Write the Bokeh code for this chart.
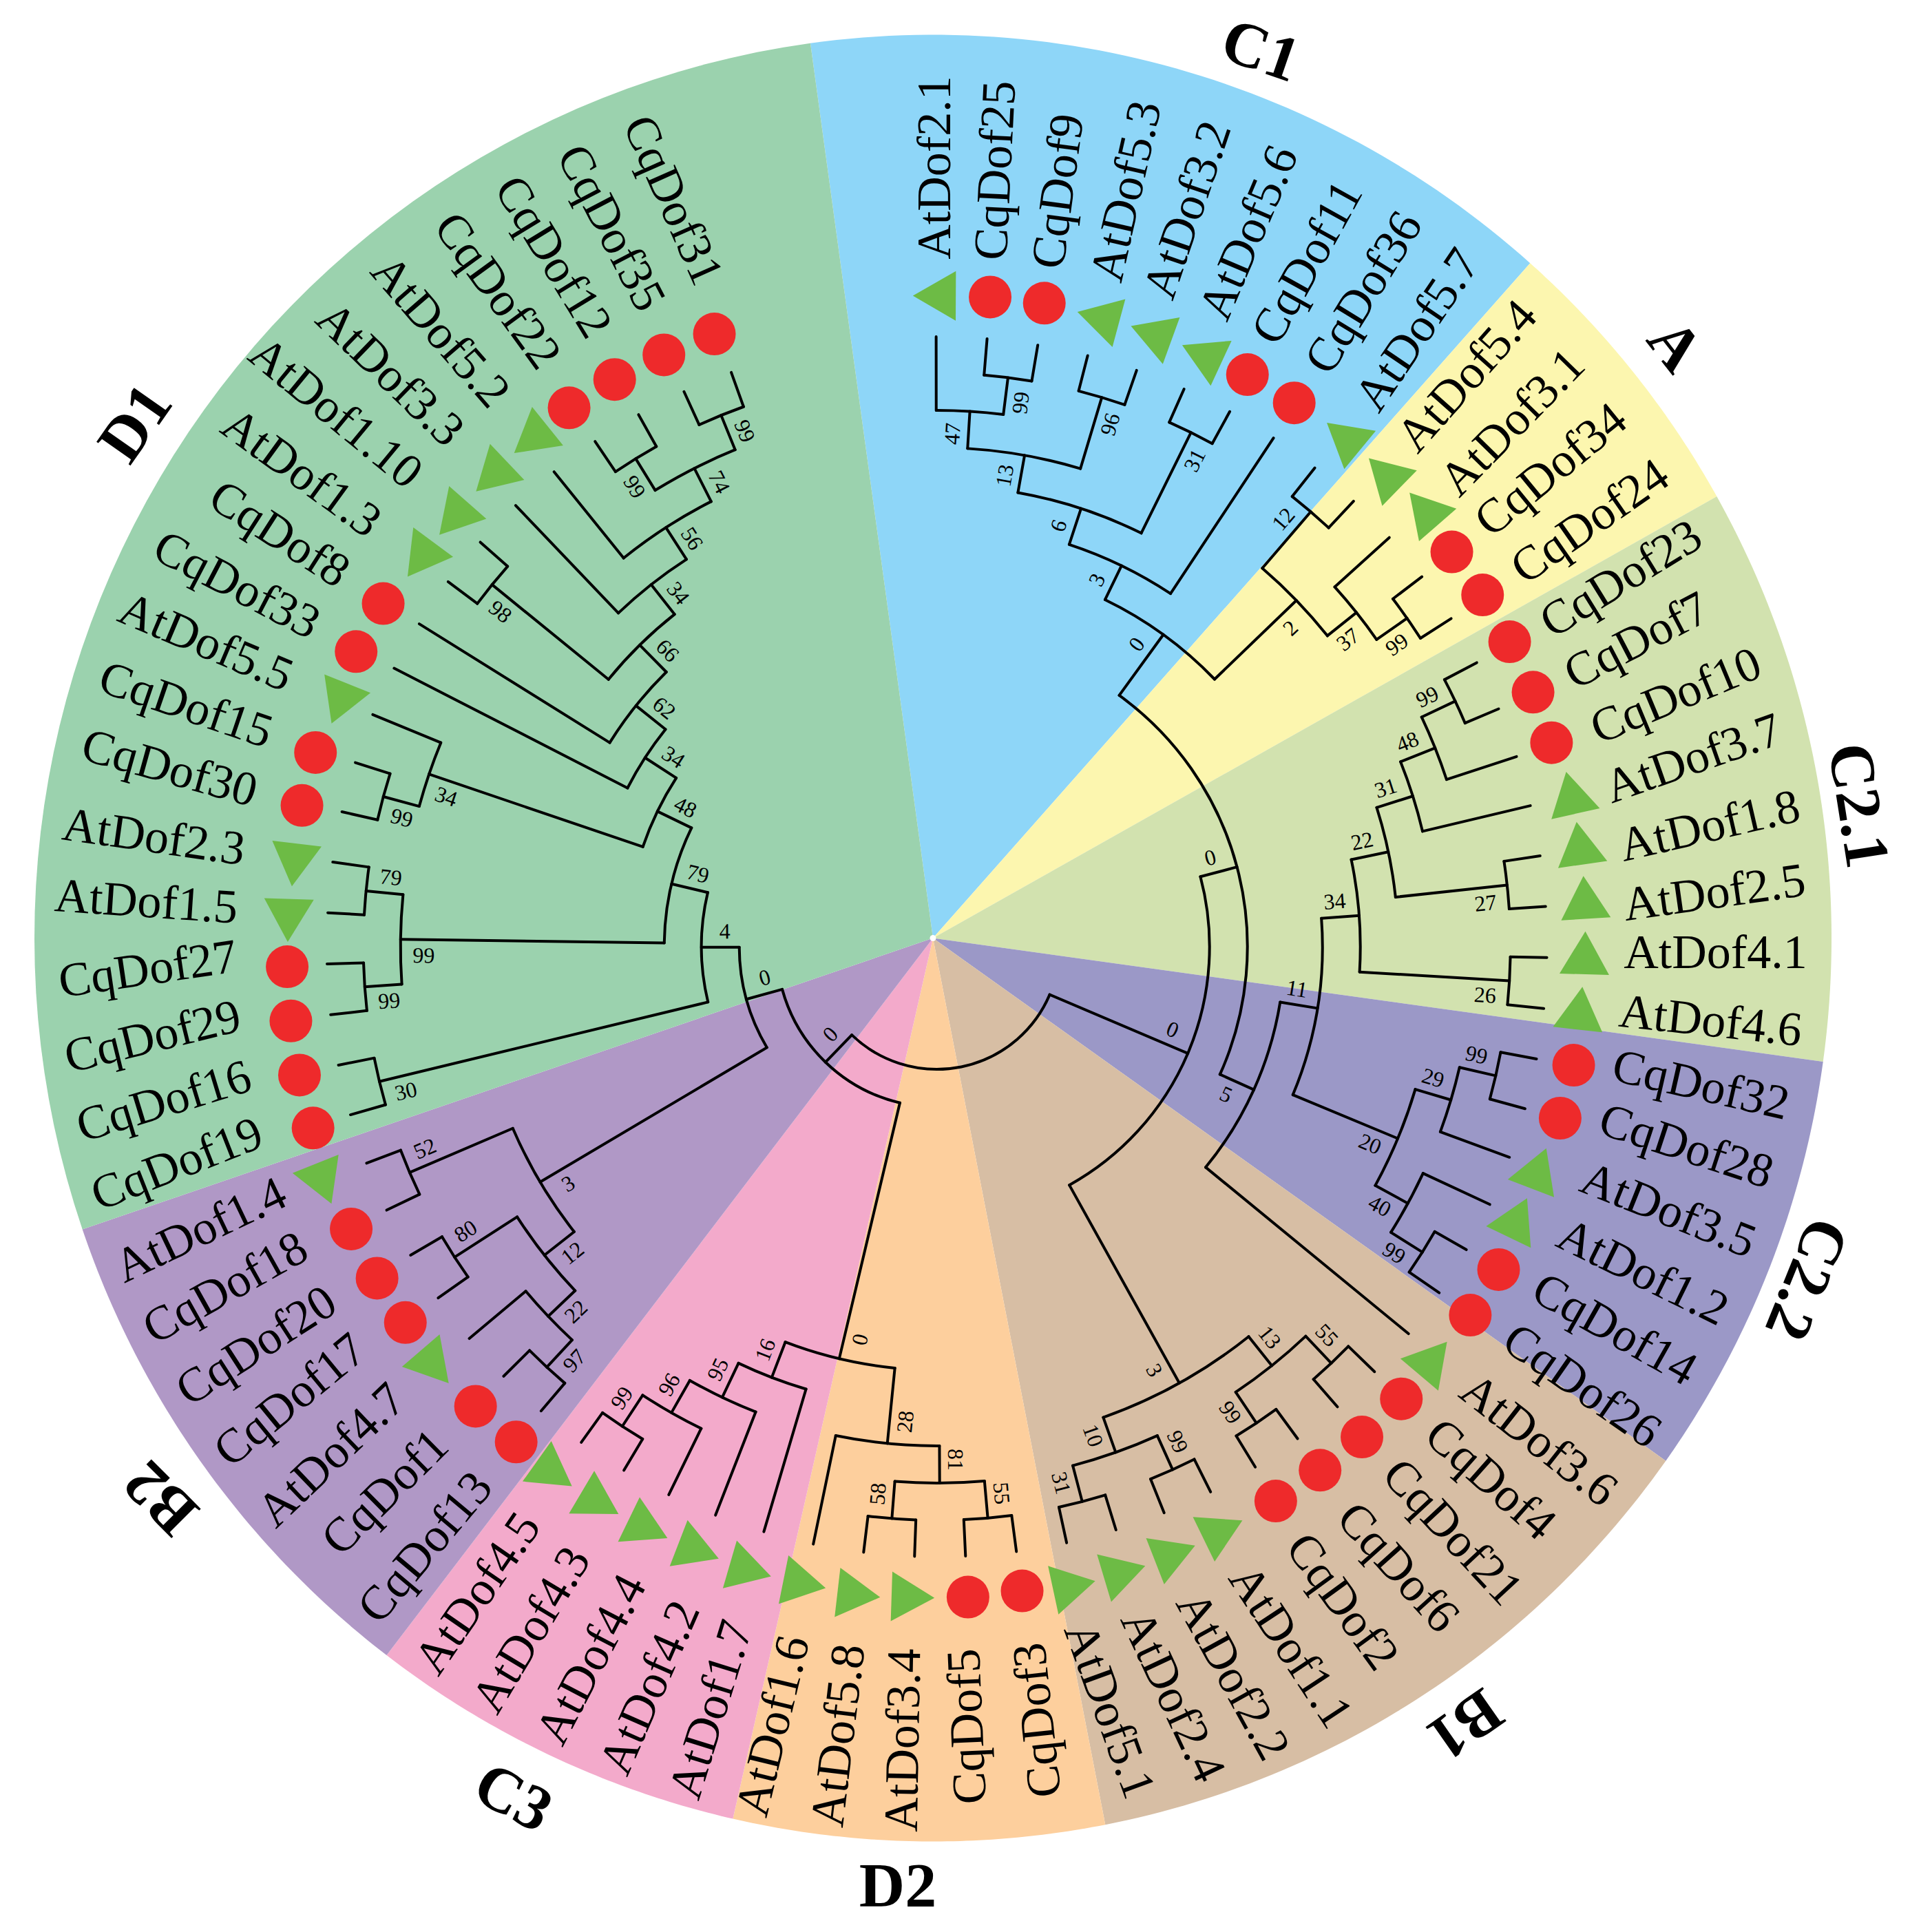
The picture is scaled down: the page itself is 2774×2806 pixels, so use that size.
import numpy as np
from bokeh.embed import file_html
from bokeh.models import ColumnDataSource, Range1d
from bokeh.plotting import figure
from bokeh.resources import INLINE

# symbols and group titles are read in a 1550px wide copy, PIC brings them to full size
PIC = 1.788
CX, CY = 1354.5, 1362.0       # where the coloured sectors meet
TREE_DX, TREE_DY = 5.7, -12.5  # the tree is not quite centred on the sectors

leaf_names = ["AtDof2.1", "CqDof25", "CqDof9", "AtDof5.3", "AtDof3.2", "AtDof5.6", "CqDof11", "CqDof36", "AtDof5.7",
              "AtDof5.4", "AtDof3.1", "CqDof34", "CqDof24",
              "CqDof23", "CqDof7", "CqDof10", "AtDof3.7", "AtDof1.8", "AtDof2.5", "AtDof4.1", "AtDof4.6",
              "CqDof32", "CqDof28", "AtDof3.5", "AtDof1.2", "CqDof14", "CqDof26",
              "AtDof3.6", "CqDof4", "CqDof21", "CqDof6", "CqDof2", "AtDof1.1", "AtDof2.2", "AtDof2.4", "AtDof5.1",
              "CqDof3", "CqDof5", "AtDof3.4", "AtDof5.8", "AtDof1.6",
              "AtDof1.7", "AtDof4.2", "AtDof4.4", "AtDof4.3", "AtDof4.5",
              "CqDof13", "CqDof1", "AtDof4.7", "CqDof17", "CqDof20", "CqDof18", "AtDof1.4",
              "CqDof19", "CqDof16", "CqDof29", "CqDof27", "AtDof1.5", "AtDof2.3", "CqDof30", "CqDof15", "AtDof5.5",
              "CqDof33", "CqDof8", "AtDof1.3", "AtDof1.10", "AtDof3.3", "AtDof5.2", "CqDof22", "CqDof12", "CqDof35",
              "CqDof31"]

# angle of each tip in the tree, degrees, running clockwise
leaf_angle = [90.07, 85.28, 80.48, 75.69, 70.89, 66.1, 61.31, 56.51, 51.72,
              46.92, 42.13, 37.34, 32.54,
              27.75, 22.95, 18.16, 13.37, 8.57, 3.78, -1.02, -5.81,
              -10.6, -15.4, -20.19, -24.99, -29.78, -34.57,
              -39.37, -44.16, -48.96, -53.75, -58.54, -63.34, -68.13, -72.93, -77.72,
              -82.51, -87.31, -92.1, -96.9, -101.69,
              -106.48, -111.28, -116.07, -120.87, -125.66,
              -130.45, -135.25, -140.04, -144.84, -149.63, -154.42, -159.22,
              -164.01, -168.81, -173.6, -178.39, -183.19, -187.98, -192.78, -197.57, -202.36,
              -207.16, -211.95, -216.75, -221.54, -226.33, -231.13, -235.92, -240.72, -245.51,
              -250.3]

leaf_parent = ["n47", "n99a", "n99a", "n96", "n96", "n31a", "n31a", "n3a", "n12",
               "n12", "n37", "n99b", "n99b",
               "n99c", "n99c", "n48", "n31b", "n27", "n27", "n26", "n26",
               "n99d", "n99d", "n29", "n40", "n99e", "n99e",
               "n5", "n55", "n55", "n99f", "n99f", "n99g", "n99g", "n31c", "n31c",
               "n55b", "n55b", "n58", "n58", "n28",
               "n16", "n95", "n96b", "n99h", "n99h",
               "n97", "n97", "n22c", "n80", "n80", "n52", "n52",
               "n30", "n30", "n99i", "n99i", "n79c", "n79c", "n99j", "n99j", "n34c",
               "n34b", "n62", "n98", "n98", "n34a", "n56", "n99k", "n99k", "n99l",
               "n99l"]

# markers and names were placed by hand in the figure, so they are read one by one
symbol_x = [760, 804, 848, 893, 936, 977, 1013, 1051, 1092,
            1125, 1157, 1179, 1204,
            1226, 1245, 1260, 1276, 1283, 1287, 1287, 1283,
            1278, 1267, 1249, 1232, 1217, 1194,
            1163, 1138, 1106, 1072, 1036, 992, 953, 912, 871,
            830, 786, 740, 696, 652,
            608, 566, 525, 486, 449,
            419, 386, 352, 329, 306, 285, 262,
            254, 243, 236, 233, 234, 239, 245, 256, 276,
            289, 311, 342, 369, 400, 432, 462, 499, 539,
            580]
symbol_y = [240, 241, 246, 258, 271, 288, 304, 327, 355,
            385, 414, 448, 483,
            521, 562, 603, 645, 686, 730, 775, 820,
            865, 908, 950, 990, 1031, 1068,
            1104, 1136, 1167, 1194, 1219, 1243, 1262, 1277, 1288,
            1292, 1297, 1297, 1295, 1286,
            1275, 1259, 1241, 1220, 1196,
            1171, 1142, 1109, 1074, 1038, 998, 960,
            916, 873, 829, 785, 746, 701, 654, 611, 570,
            529, 490, 453, 420, 386, 356, 331, 308, 288,
            271]

# middle of each name and its slant, full size pixels of the figure
name_x = [1356, 1444, 1535, 1634, 1723, 1812, 1897, 1979, 2057,
          2129, 2195, 2251, 2308,
          2353, 2376, 2433, 2458, 2482, 2489, 2491, 2484,
          2470, 2449, 2423, 2386, 2345, 2298,
          2235, 2165, 2110, 2031, 1950, 1875, 1791, 1704, 1612,
          1505, 1403, 1310, 1216, 1121,
          1031, 942, 857, 770, 692,
          616, 558, 480, 420, 371, 326, 290,
          256, 237, 221, 214, 212, 223, 246, 270, 299,
          344, 406, 438, 488, 567, 640, 723, 804, 888,
          978]
name_y = [243, 247, 277, 277, 304, 337, 380, 424, 478,
          545, 612, 681, 756,
          839, 929, 1009, 1100, 1198, 1295, 1382, 1481,
          1574, 1663, 1756, 1846, 1929, 2011,
          2090, 2147, 2224, 2275, 2325, 2390, 2433, 2462, 2483,
          2498, 2507, 2527, 2520, 2506,
          2482, 2450, 2409, 2366, 2313,
          2246, 2166, 2112, 2032, 1953, 1869, 1785,
          1689, 1598, 1504, 1406, 1308, 1214, 1114, 1022, 931,
          848, 774, 685, 598, 542, 480, 421, 372, 330,
          290]
name_rot = [90, 87.2, 82.5, 77.3, 71.3, 67, 61, 58.5, 56,
            48.5, 45.7, 39.3, 34.9,
            31.7, 27.5, 22.6, 19.4, 13, 8, 0, -6.2,
            -12.8, -18.1, -21.7, -26.2, -29.4, -34.8,
            -37.9, -41.6, -47.1, -48, -54, -56.6, -61.1, -64.8, -70,
            96.2, 92.5, 89, 83.1, 76.4,
            72.8, 66.4, 62.5, 59, 55.5,
            50, 44.7, 43.7, 39.3, 32.8, 29.2, 25.5,
            21.4, 17, 13.8, 8.4, -3.9, -8.1, -15.5, -18.8, -23,
            -27.5, -32.7, -36, -39.5, -44, -49, -54, -58.5, -62.5,
            -66]

node_id = ["root", "a0", "b0", "c0", "n3b", "d0", "n5", "n3a", "n2", "n6", "n13", "n47", "n99a", "n96", "n31a",
           "n12", "n37", "n99b", "n11", "n34", "n20", "n22", "n26", "n31b", "n27", "n48", "n99c",
           "n29", "n99d", "n40", "n99e", "n13b", "n55", "n99f", "n10", "n99g", "n31c",
           "e0", "f0", "n28", "n16", "n81", "n55b", "n58", "n95", "n96b", "n99h",
           "n3c", "n4", "n12c", "n52", "n22c", "n80", "n97",
           "n30", "n79a", "n99big", "n48b", "n99i", "n79c", "n34c", "n34b", "n99j",
           "n62", "n66", "n98", "n34a", "n56", "n74", "n99k", "n99l"]
node_parent = [None, "root", "root", "a0", "a0", "c0", "c0", "d0", "d0", "n3a", "n6", "n13", "n47", "n13", "n6",
               "n2", "n2", "n37", "n5", "n11", "n11", "n34", "n34", "n22", "n22", "n31b", "n48",
               "n20", "n29", "n20", "n40", "n3b", "n13b", "n13b", "n3b", "n10", "n10",
               "b0", "b0", "e0", "e0", "n28", "n81", "n81", "n16", "n95", "n96b",
               "f0", "f0", "n3c", "n3c", "n12c", "n12c", "n22c",
               "n4", "n4", "n79a", "n79a", "n99big", "n99big", "n48b", "n48b", "n34c",
               "n34b", "n62", "n66", "n66", "n34a", "n56", "n74", "n74"]
node_radius = [178, 396, 233, 451, 725, 560, 505, 615, 725, 670, 725, 779, 833, 833, 833,
               833, 779, 833, 560, 615, 725, 670, 833, 725, 833, 779, 833,
               779, 833, 779, 833, 779, 833, 833, 779, 833, 833,
               615, 287, 725, 670, 779, 833, 833, 725, 779, 833,
               670, 342, 725, 833, 779, 833, 833,
               833, 396, 779, 451, 833, 833, 779, 505, 833,
               560, 615, 833, 670, 725, 779, 833, 833]
node_support = [None, 0, 0, 0, 3, 0, 5, 3, 2, 6, 13, 47, 99, 96, 31,
                12, 37, 99, 11, 34, 20, 22, 26, 31, 27, 48, 99,
                29, 99, 40, 99, 13, 55, 99, 10, 99, 31,
                0, 0, 28, 16, 81, 55, 58, 95, 96, 99,
                3, 4, 12, 52, 22, 80, 97,
                30, 79, 99, 48, 99, 79, 34, 34, 99,
                62, 66, 98, 34, 56, 74, 99, 99]
TIP_RADIUS = 886

sector_names = ["C1", "A", "C2.1", "C2.2", "B1", "D2", "C3", "B2", "D1"]
sector_start = [48.5, 29.4, -7.9, -35.5, -79, -102.8, -127.3, -161.1, -262.2]
sector_end = [97.8, 48.5, 29.4, -7.9, -35.5, -79, -102.8, -127.3, -161.1]
sector_colors = ["#8ed6f8", "#fcf6af", "#d2e2af", "#9b98c7", "#d7bea4", "#fdcf9d", "#f3aacb", "#b098c6", "#9bd2ae"]
DISK_RX, DISK_RY = 1305, 1312

group_x = [1024, 1361, 1510, 1468, 1190, 729, 417, 130, 109]
group_y = [40, 280, 654, 1039, 1401, 1531, 1459, 1217, 343]
group_rot = [-19, -52, -81, -112, -145, 0, -28, 135, 55]

p = figure(width=2766, height=2798, output_backend="svg", toolbar_location=None,
           x_range=Range1d(-CX, 2766 - CX), y_range=Range1d(CY - 2798, CY),
           min_border=0, outline_line_color=None)
p.axis.visible = False
p.grid.visible = False
p.background_fill_color = "white"


def polar(r, a):
    return r * np.cos(np.radians(a)), r * np.sin(np.radians(a))


# sectors, the disk is a little taller than wide in the figure
xs, ys = [], []
for s, e in zip(sector_start, sector_end):
    t = np.radians(np.linspace(s, e, 60))
    rr = 1 / np.hypot(np.cos(t) / DISK_RX, np.sin(t) / DISK_RY)
    xs.append(np.r_[0, rr * np.cos(t)])
    ys.append(np.r_[0, rr * np.sin(t)])
p.patches(xs, ys, fill_color=sector_colors, line_color=None)
p.scatter(x=[0], y=[0], size=9, marker="circle", fill_color="white", line_color=None)

# walk the tree: a node sits halfway between its outermost children
radius_of = dict(zip(node_id, node_radius))
parent_of = dict(zip(node_id, node_parent))
support_of = dict(zip(node_id, node_support))
children = {n: [] for n in node_id}
for n, par in zip(node_id, node_parent):
    if par:
        children[par].append(n)
leaves_of = {n: [] for n in node_id}
for a, par in zip(leaf_angle, leaf_parent):
    leaves_of[par].append(a)

angle_of = {}
span_of = {}


def place(n):
    angs = list(leaves_of[n])
    for c in children[n]:
        angs.append(place(c))
    span_of[n] = (min(angs), max(angs))
    angle_of[n] = (min(angs) + max(angs)) / 2
    return angle_of[n]


place("root")

arc_r, arc_start, arc_end = [], [], []
x0, y0, x1, y1 = [], [], [], []
for n in node_id:
    arc_r.append(radius_of[n])
    arc_start.append(span_of[n][0])
    arc_end.append(span_of[n][1])
    if parent_of[n]:
        ax, ay = polar(radius_of[parent_of[n]], angle_of[n])
        bx, by = polar(radius_of[n], angle_of[n])
        x0.append(ax + TREE_DX), y0.append(ay + TREE_DY), x1.append(bx + TREE_DX), y1.append(by + TREE_DY)
for a, par in zip(leaf_angle, leaf_parent):
    ax, ay = polar(radius_of[par], a)
    bx, by = polar(TIP_RADIUS, a)
    x0.append(ax + TREE_DX), y0.append(ay + TREE_DY), x1.append(bx + TREE_DX), y1.append(by + TREE_DY)

p.arc(x=TREE_DX, y=TREE_DY, radius=arc_r, start_angle=arc_start, end_angle=arc_end, start_angle_units="deg",
      end_angle_units="deg", direction="anticlock", line_color="black", line_width=4, line_cap="round")
p.segment(x0, y0, x1, y1, line_color="black", line_width=4, line_cap="round")

# bootstrap values ride next to the outer end of their branch
lab_x, lab_y, lab_t, lab_a = [], [], [], []
for n in node_id:
    if support_of[n] is None:
        continue
    a = angle_of[n]
    side = 1 if a > angle_of[parent_of[n]] else -1
    bx, by = polar(radius_of[n] - 34, a)
    nx, ny = polar(23 * side, a + 90)
    lab_x.append(bx + nx + TREE_DX)
    lab_y.append(by + ny + TREE_DY)
    lab_t.append(str(support_of[n]))
    lab_a.append(a if np.cos(np.radians(a)) > -1e-6 else a - 180)
p.text(lab_x, lab_y, text=lab_t, angle=lab_a, angle_units="deg", text_align="center", text_baseline="middle",
       text_font="Liberation Serif", text_font_size="32px", text_color="black")

# markers and names
sx = np.array(symbol_x) * PIC - CX
sy = CY - np.array(symbol_y) * PIC
is_at = np.array([s.startswith("At") for s in leaf_names])
sym_angle = np.degrees(np.arctan2(sy, sx))
# read values are the middle of the triangle's box, bokeh rotates it about the centroid
tri_x, tri_y = polar(8, sym_angle - 90)
p.scatter((sx + tri_x)[is_at], (sy + tri_y)[is_at], marker="triangle", size=72, angle=sym_angle[is_at],
          angle_units="deg", fill_color="#6dbb45", line_color=None)
p.scatter(sx[~is_at], sy[~is_at], marker="circle", size=62, fill_color="#ee2a2b", line_color=None)

leaf_src = ColumnDataSource(dict(x=np.array(name_x) - CX, y=CY - np.array(name_y), t=leaf_names, a=name_rot))
p.text("x", "y", text="t", angle="a", angle_units="deg", text_align="center", text_baseline="middle",
       text_font="Liberation Serif", text_font_size="70px", text_color="black", source=leaf_src)

gx = np.array(group_x) * PIC - CX
gy = CY - np.array(group_y) * PIC
p.text(gx, gy, text=sector_names, angle=group_rot, angle_units="deg", text_align="center", text_baseline="middle",
       text_font="Liberation Serif", text_font_size="92px", text_font_style="bold", text_color="black")

open("out.html", "w").write(file_html(p, INLINE))
